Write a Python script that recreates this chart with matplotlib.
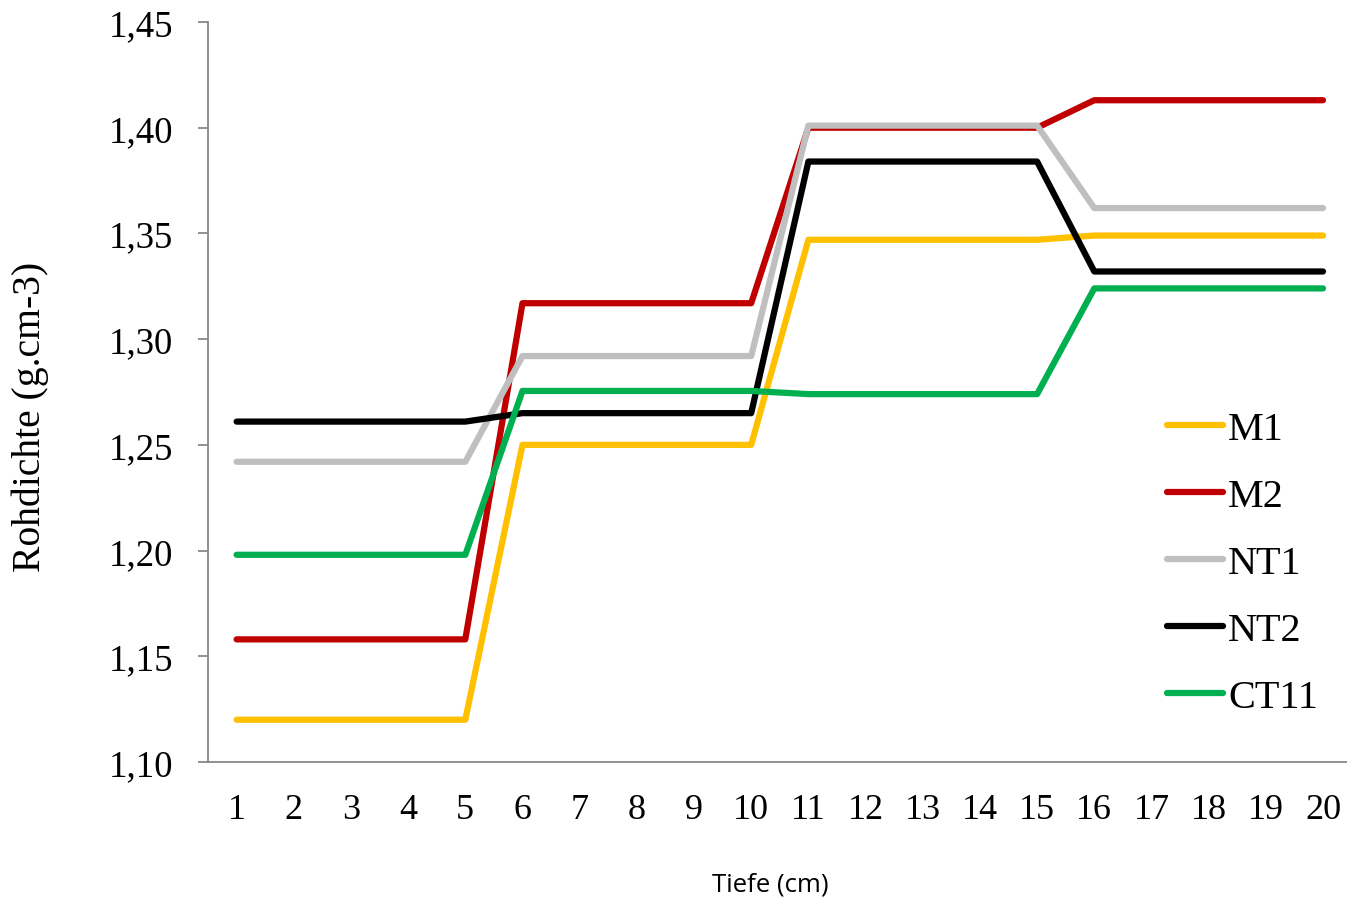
import matplotlib
matplotlib.use("Agg")
import matplotlib.pyplot as plt
from matplotlib.ticker import FixedLocator

# Depth (cm) and bulk density per treatment
depth = list(range(1, 21))
m1 = [1.120] * 5 + [1.250] * 5 + [1.347] * 5 + [1.349] * 5
m2 = [1.158] * 5 + [1.317] * 5 + [1.400] * 5 + [1.413] * 5
nt1 = [1.242] * 5 + [1.292] * 5 + [1.401] * 5 + [1.362] * 5
nt2 = [1.261] * 5 + [1.265] * 5 + [1.384] * 5 + [1.332] * 5
ct11 = [1.198] * 5 + [1.2755] * 5 + [1.274] * 5 + [1.324] * 5

series = [("M1", m1, "#FFC000"), ("M2", m2, "#C00000"), ("NT1", nt1, "#BFBFBF"),
          ("NT2", nt2, "#000000"), ("CT11", ct11, "#00B050")]
yticks = [1.10, 1.15, 1.20, 1.25, 1.30, 1.35, 1.40, 1.45]

serif = "Liberation Serif"

fig = plt.figure(figsize=(13.47, 9.03), dpi=100)
ax = fig.add_axes([208 / 1347, 1 - 763 / 903, (1351.6 - 208) / 1347, (763 - 23) / 903])

for name, vals, col in series:
    ax.plot(depth, vals, color=col, lw=4.5, solid_capstyle="round",
            solid_joinstyle="round", label=name)

ax.set_xlim(0.5, 20.5)
ax.set_ylim(1.10, 1.45)
ax.set_xticks(depth)
ax.set_xticklabels([str(d) for d in depth], fontfamily=serif, fontsize=26)
ax.yaxis.set_major_locator(FixedLocator(yticks))
ax.set_yticklabels([f"{v:.2f}".replace(".", ",") for v in yticks], fontfamily=serif, fontsize=26.5)
ax.tick_params(axis="x", length=0, pad=22)
ax.tick_params(axis="y", length=7, width=1.3, color="#888888", pad=18)

for s in ("top", "right"):
    ax.spines[s].set_visible(False)
for s in ("left", "bottom"):
    ax.spines[s].set_color("#888888")
    ax.spines[s].set_linewidth(1.3)

fig.text(30 / 1347, 1 - 417 / 903, "Rohdichte (g.cm-3)", fontfamily=serif,
         fontsize=28.5, rotation=90, ha="center", va="center")
fig.text(770 / 1347, 1 - 885 / 903, "Tiefe (cm)", fontfamily="Open Sans",
         fontsize=18.5, ha="center", va="center")

leg = ax.legend(loc="upper left", bbox_to_anchor=(1167 / 1347, 1 - 412 / 903),
                bbox_transform=fig.transFigure, frameon=False,
                prop={"family": serif, "size": 29}, handlelength=1.4,
                handletextpad=0.12, labelspacing=0.74, borderpad=0, borderaxespad=0)

fig.savefig("out.png", dpi=100)
